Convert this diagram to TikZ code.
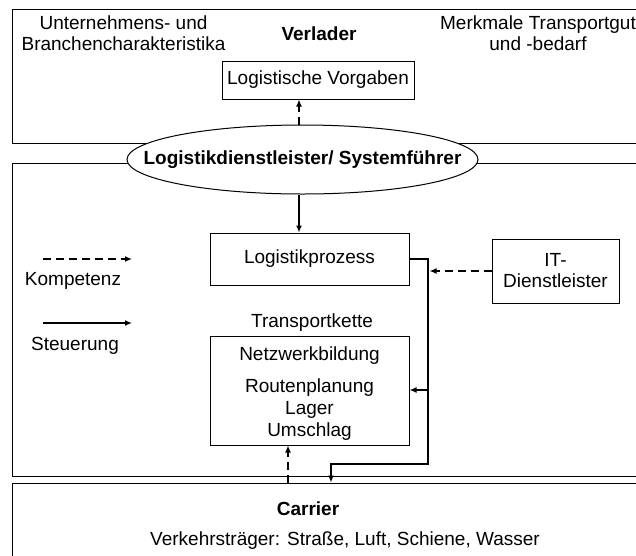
\documentclass[tikz,border=0pt]{standalone}
\usepackage{fontspec}
\setmainfont{Liberation Sans}
\usetikzlibrary{shapes.geometric,arrows.meta}
\begin{document}
\begin{tikzpicture}[x=1pt,y=-1pt,
  every node/.style={font=\fontsize{19}{21}\selectfont, inner sep=0pt},
  boldtext/.style={font=\fontsize{19}{21}\selectfont\bfseries},
  panel/.style={draw, line width=1pt, minimum width=638pt},
  box/.style={draw, line width=1pt, align=center},
  txt/.style={align=center},
  tip/.style={-{Latex[length=7pt,width=6pt]}},
  solidline/.style={tip, line width=2.2pt},
  dashline/.style={tip, line width=2pt, dash pattern=on 8pt off 5pt},
  thickline/.style={line width=2.6pt}
]
\useasboundingbox (0,0) rectangle (636,555);
\clip (0,0) rectangle (636,555);

% panels
\node[panel, minimum height=134pt] (pverl) at (331,76) {};
\node[panel, minimum height=313pt] (pdl) at (331,319.5) {};
\node[panel, minimum height=92pt] (pcar) at (331,529) {};

% Verlader panel
\node[txt] (ucha) at (123.5,33.5) {Unternehmens- und\\Branchencharakteristika};
\node[boldtext, anchor=base] (verl) at (319,40) {Verlader};
\node[txt] (mtg) at (538,33.5) {Merkmale Transportgut\\und -bedarf};
\node[box, minimum width=192pt, minimum height=38pt] (lv) at (318,80) {Logistische Vorgaben};

% ellipse
\node[draw, ellipse, fill=white, line width=1pt, minimum width=351pt, minimum height=69pt] (ell) at (302.5,159.5) {\makebox[0pt]{\bfseries Logistikdienstleister/ Systemführer}};

% middle panel
\node[box, minimum width=199pt, minimum height=52pt] (lp) at (309.5,259) {Logistikprozess};
\node[box, minimum width=127pt, minimum height=64pt] (it) at (555.5,271) {IT-\\Dienstleister};
\node[anchor=base] (tkl) at (312,327) {Transportkette};
\node[box, minimum width=199pt, minimum height=109pt, font=\fontsize{19}{22}\selectfont] (tk) at (309.5,390.5) {\rule{0pt}{20pt}Netzwerkbildung\\[10pt]Routenplanung\\Lager\\Umschlag};

% legend
\coordinate (k1) at (43,259);
\coordinate (k2) at (132,259);
\draw[dashline] (k1) -- (k2);
\node[anchor=base] (komp) at (73,285) {Kompetenz};
\coordinate (s1) at (43,323);
\coordinate (s2) at (132,323);
\draw[solidline] (s1) -- (s2);
\node[anchor=base] (steu) at (75,350) {Steuerung};

% carrier panel
\node[boldtext, anchor=base] (car) at (308,515) {Carrier};
\node[anchor=base] (vt) at (345,545) {Verkehrsträger: Straße, Luft, Schiene, Wasser};

% connectors
\coordinate (ax) at (299,0);
\draw[dashline] (ell.north -| ax) -- (lv.south -| ax);
\draw[solidline] (ell.south -| ax) -- (lp.north -| ax);

\coordinate (r1) at (428,259);
\coordinate (r2) at (428,464);
\coordinate (r3) at (331,464);
\coordinate (r4) at (428,390);
\coordinate (r5) at (429.5,271);
\draw[thickline, tip] (lp.east) -- (r1) -- (r2) -- (r3) -- (r3 |- pcar.north);
\draw[thickline, tip] (r4) -- (r4 -| tk.east);
\draw[dashline] (it.west) -- (r5);

\coordinate (d1) at (288,483);
\draw[dashline] (d1) -- (d1 |- tk.south);
\end{tikzpicture}
\end{document}
